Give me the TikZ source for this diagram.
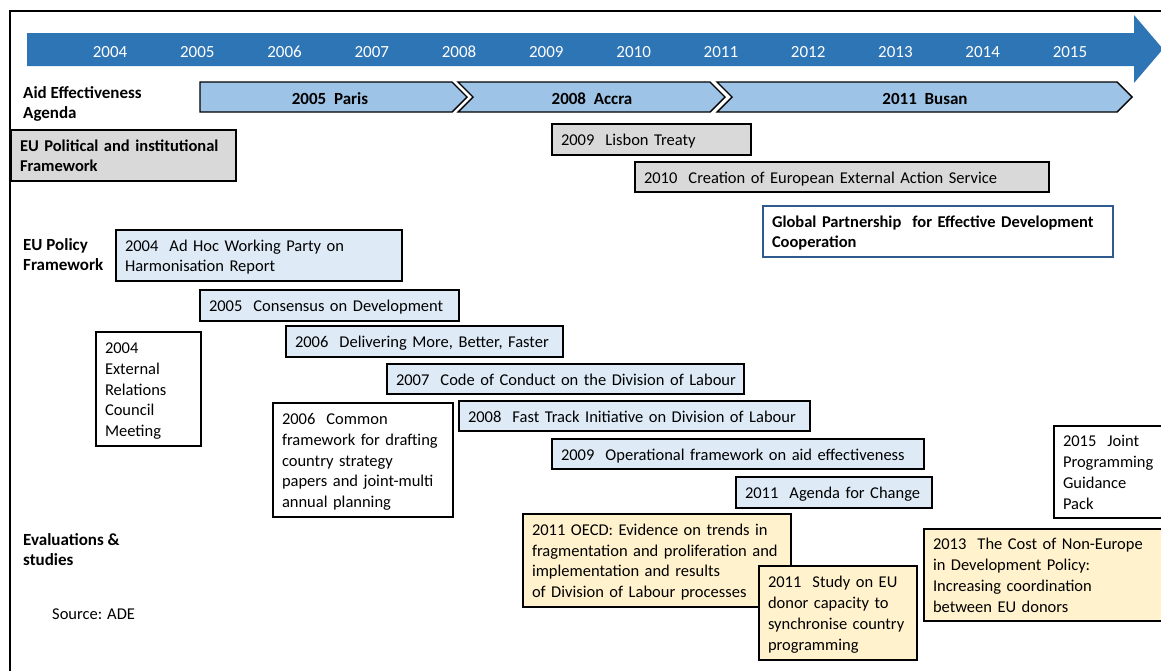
\documentclass[tikz,border=0pt]{standalone}
\usepackage{fontspec}
\setmainfont{Carlito}
\definecolor{tlblue}{HTML}{2E75B6}
\definecolor{chevfill}{HTML}{9DC3E6}
\definecolor{grayfill}{HTML}{D9D9D9}
\definecolor{polfill}{HTML}{DEEBF7}
\definecolor{evalfill}{HTML}{FFF2CC}
\definecolor{gpblue}{HTML}{2F5A8E}
\begin{document}
\begin{tikzpicture}[x=1pt,y=-1pt,
  txt/.style={font=\fontsize{17}{20.7}\selectfont},
  boxfont/.style={font=\fontsize{16.5}{20.7}\selectfont},
  boxbold/.style={font=\fontsize{16.5}{20.7}\selectfont\bfseries},
  box/.style={boxfont, draw=black, line width=1.4pt, anchor=north west,
    inner xsep=9pt, inner ysep=0pt, outer sep=0pt, align=left,
    execute at begin node={\rule{0pt}{16pt}},
    execute at end node={\rule[-4pt]{0pt}{4pt}}},
  grey/.style={box, fill=grayfill},
  policy/.style={box, fill=polfill},
  plain/.style={box, fill=white},
  evalbox/.style={box, fill=evalfill},
  rowlabel/.style={font=\fontsize{17}{20.7}\selectfont\bfseries, anchor=north west,
    inner sep=0pt, align=left},
  year/.style={txt, text=white, inner sep=0pt},
  chev/.style={draw=black, line width=1.4pt, fill=chevfill},
  chevtext/.style={font=\fontsize{17}{20.7}\selectfont\bfseries, inner sep=0pt}]
\useasboundingbox (0,0) rectangle (1161,670);

% frame
\draw[line width=1.7pt] (10,671) -- (10,11) -- (1162,11);

% time axis arrow
\fill[tlblue] (27,33) -- (1134,33) -- (1134,15) -- (1163,49) -- (1134,83)
  -- (1134,66) -- (27,66) -- cycle;
\foreach \yr [count=\i from 0] in {2004,...,2015}
  \node[year] (y\yr) at (110+87.27*\i,52) {\yr};

% aid effectiveness agenda chevrons
\draw[chev] (200,82) -- (452,82) -- (467,97) -- (452,112) -- (200,112) -- cycle;
\draw[chev] (458,82) -- (710,82) -- (725,97) -- (710,112) -- (458,112) -- (473,97) -- cycle;
\draw[chev] (717,82) -- (1117,82) -- (1132,97) -- (1117,112) -- (717,112) -- (732,97) -- cycle;
\node[chevtext] (paris) at (330,99) {2005\ \ Paris};
\node[chevtext] (accra) at (592,99) {2008\ \ Accra};
\node[chevtext] (busan) at (925,99) {2011\ \ Busan};

% row labels
\node[rowlabel] (lblaid) at (23,86) {Aid Effectiveness\\Agenda};
\node[rowlabel] (lblpol) at (23,238) {EU Policy\\Framework};
\node[rowlabel] (lbleval) at (23,533) {Evaluations \&\\studies};
\node[boxfont, anchor=west, inner sep=0pt] (source) at (52,614) {Source: ADE};

% EU political and institutional framework
\node[grey, boxbold, minimum height=51pt, text width=207pt]
  (polfw) at (11,130) {\mbox{EU Political and institutional}\\Framework};
\node[grey, minimum height=31pt, text width=181pt] (lisbon) at (552,124)
  {2009\ \ Lisbon Treaty};
\node[grey, minimum height=30pt, text width=396pt] (eeas) at (635,162)
  {\mbox{2010\ \ Creation of European External Action Service}};
\node[box, draw=gpblue, fill=white, boxbold,
  minimum height=51pt, text width=332pt] (gpedc) at (763,206)
  {\mbox{Global Partnership\ \ for Effective Development}\\Cooperation};

% EU policy framework
\node[policy, minimum height=51pt, text width=268pt] (adhoc) at (116,230)
  {2004\ \ Ad Hoc Working Party on\\Harmonisation Report};
\node[policy, minimum height=31pt, text width=241pt] (consensus) at (200,290)
  {\mbox{2005\ \ Consensus on Development}};
\node[policy, minimum height=31pt, text width=259pt] (delivering) at (286,326)
  {\mbox{2006\ \ Delivering More, Better, Faster}};
\node[policy, minimum height=30pt, text width=339pt] (conduct) at (387,364)
  {\mbox{2007\ \ Code of Conduct on the Division of Labour}};
\node[policy, minimum height=30pt, text width=333pt] (fasttrack) at (459,401)
  {\mbox{2008\ \ Fast Track Initiative on Division of Labour}};
\node[policy, minimum height=30pt, text width=354pt] (opfw) at (552,439)
  {\mbox{2009\ \ Operational framework on aid effectiveness}};
\node[policy, minimum height=31pt, text width=178pt] (agenda) at (736,477)
  {\mbox{2011\ \ Agenda for Change}};
\node[plain, minimum height=114pt, text width=87pt] (erc) at (96,332)
  {2004\\External\\Relations\\Council\\Meeting};
\node[plain, minimum height=114pt, text width=162pt] (commonfw) at (273,403)
  {2006\ \ Common\\\mbox{framework for drafting}\\country strategy\\\mbox{papers and joint-multi}\\annual planning};
\node[plain, minimum height=92pt, text width=92pt] (jpgp) at (1054,426)
  {2015\ \ Joint\\\mbox{Programming}\\Guidance\\Pack};

% evaluations and studies
\node[evalbox, minimum height=93pt, text width=250pt] (oecd) at (523,514)
  {\mbox{2011 OECD: Evidence on trends in}\\\mbox{fragmentation and proliferation and}\\implementation and results\\\mbox{of Division of Labour processes}};
\node[evalbox, minimum height=94pt, text width=140pt] (study) at (759,566)
  {2011\ \ Study on EU\\donor capacity to\\\mbox{synchronise country}\\programming};
\node[evalbox, minimum height=92pt, text width=222pt] (cost) at (924,529)
  {\mbox{2013\ \ The Cost of Non-Europe}\\in Development Policy:\\Increasing coordination\\between EU donors};
\end{tikzpicture}
\end{document}
